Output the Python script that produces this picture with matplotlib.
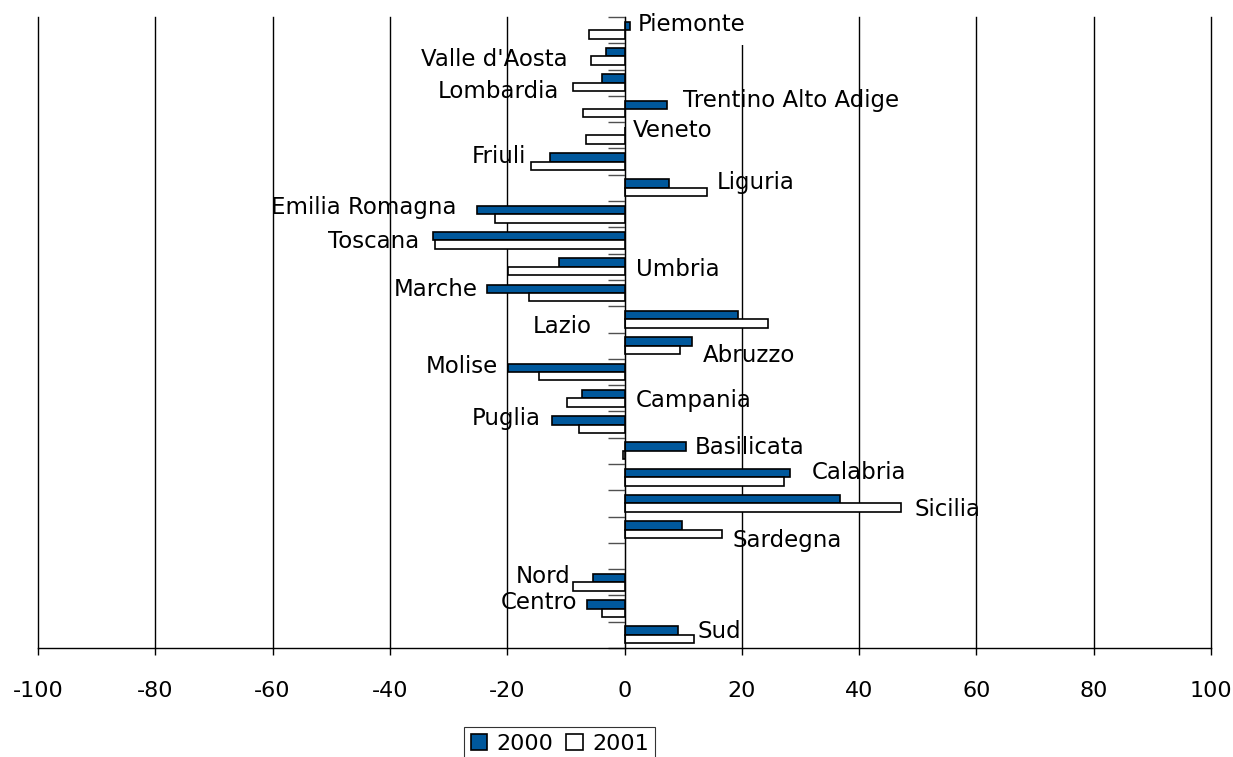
import matplotlib
matplotlib.use("Agg")
import matplotlib.pyplot as plt
from matplotlib.patches import Patch
import numpy as np

regions = ["Piemonte", "Valle d'Aosta", "Lombardia", "Trentino Alto Adige", "Veneto",
           "Friuli", "Liguria", "Emilia Romagna", "Toscana", "Umbria", "Marche",
           "Lazio", "Abruzzo", "Molise", "Campania", "Puglia", "Basilicata",
           "Calabria", "Sicilia", "Sardegna", "", "Nord", "Centro", "Sud"]
v2000 = [0.9, -3.1, -3.8, 7.2, 0.0, -12.7, 7.6, -25.2, -32.7, -11.2, -23.4,
         19.3, 11.5, -19.8, -7.3, -12.3, 10.5, 28.3, 36.8, 9.8, np.nan, -5.3, -6.4, 9.1]
v2001 = [-6.0, -5.7, -8.8, -7.0, -6.6, -15.9, 14.0, -22.0, -32.3, -19.8, -16.3,
         24.4, 9.4, -14.6, -9.8, -7.8, -0.3, 27.2, 47.2, 16.6, np.nan, -8.8, -3.9, 11.9]
series_names = ["2000", "2001"]
x_ticks = [-100, -80, -60, -40, -20, 0, 20, 40, 60, 80, 100]

# label anchor positions (layout): (x, y, horizontal alignment)
label_pos = {
    "Piemonte": (2.2, -0.23, "left"),
    "Valle d'Aosta": (-9.7, 1.13, "right"),
    "Lombardia": (-11.1, 2.35, "right"),
    "Trentino Alto Adige": (9.9, 2.66, "left"),
    "Veneto": (1.5, 3.83, "left"),
    "Friuli": (-16.7, 4.82, "right"),
    "Liguria": (15.7, 5.81, "left"),
    "Emilia Romagna": (-28.6, 6.76, "right"),
    "Toscana": (-35.0, 8.02, "right"),
    "Umbria": (1.9, 9.12, "left"),
    "Marche": (-25.1, 9.88, "right"),
    "Lazio": (-5.6, 11.29, "right"),
    "Abruzzo": (13.3, 12.39, "left"),
    "Molise": (-21.5, 12.81, "right"),
    "Campania": (1.9, 14.10, "left"),
    "Puglia": (-14.3, 14.79, "right"),
    "Basilicata": (11.9, 15.89, "left"),
    "Calabria": (31.9, 16.84, "left"),
    "Sicilia": (49.4, 18.25, "left"),
    "Sardegna": (18.4, 19.42, "left"),
    "Nord": (-9.2, 20.79, "right"),
    "Centro": (-8.0, 21.78, "right"),
    "Sud": (12.4, 22.88, "left"),
}

plt.rcParams['font.family'] = ['DejaVu Sans']
FS = 16.5
FS_TICK = 16
blue = "#00589C"

fig = plt.figure(figsize=(12.33, 7.57), dpi=100)
ax = fig.add_axes([38/1233, 1-648/757, 1173/1233, 631/757])

y = np.arange(len(regions))
h = 0.32
ax.barh(y - h/2, v2000, height=h, color=blue, edgecolor="black", linewidth=1.2, zorder=4)
ax.barh(y + h/2, v2001, height=h, color="white", edgecolor="black", linewidth=1.2, zorder=4)

for name, (lx, ly, ha) in label_pos.items():
    kw = {}
    if name == "Piemonte":
        kw["bbox"] = dict(fc="white", ec="none", pad=7)
    ax.text(lx, ly, name, ha=ha, va="center", fontsize=FS, zorder=3, **kw)

ax.set_xlim(-100, 100)
ax.set_ylim(len(regions) - 0.5, -0.5)
ax.set_xticks(x_ticks)
ax.set_xticklabels([str(t) for t in x_ticks], fontsize=FS_TICK)
ax.tick_params(axis="x", direction="out", length=5, width=1, pad=19, color="black")
ax.xaxis.grid(True, color="black", linewidth=1)
for gl in ax.get_xgridlines():
    gl.set_clip_on(False)
ax.set_axisbelow(True)

ax.set_yticks(np.arange(len(regions) + 1) - 0.5)
ax.set_yticklabels([])
ax.tick_params(axis="y", direction="out", length=12, width=1, color="#505050")

for s in ["top", "right"]:
    ax.spines[s].set_visible(False)
ax.spines["left"].set_position(("data", 0))
ax.spines["left"].set_color("black")
ax.spines["left"].set_zorder(5)
ax.spines["bottom"].set_color("black")
ax.spines["bottom"].set_linewidth(1)

handles = [Patch(facecolor=blue, edgecolor="black", linewidth=1.2),
           Patch(facecolor="white", edgecolor="black", linewidth=1.2)]
leg = fig.legend(handles, series_names, loc="upper left",
                 bbox_to_anchor=(464/1233, 1-727/757), ncol=2, fontsize=FS_TICK,
                 frameon=True, fancybox=False, borderaxespad=0,
                 handlelength=0.75, handleheight=0.75, handletextpad=0.4,
                 columnspacing=0.6, borderpad=0.3)
leg.get_frame().set_edgecolor("black")
leg.get_frame().set_linewidth(0.8)

fig.savefig("out.png", dpi=100)
